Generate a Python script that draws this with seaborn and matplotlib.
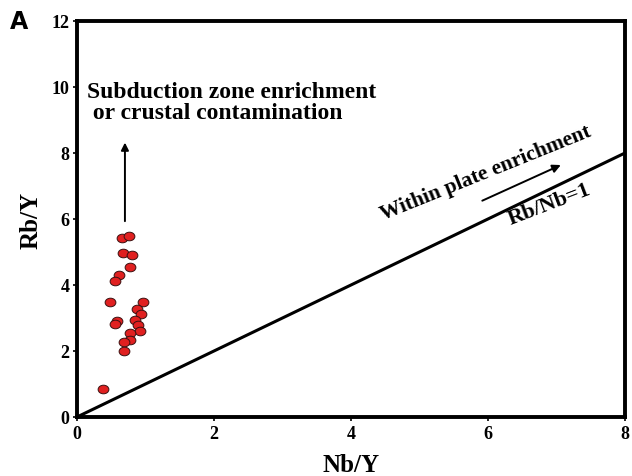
import matplotlib
matplotlib.use("Agg")
import matplotlib.pyplot as plt
from matplotlib.path import Path
from matplotlib.transforms import Affine2D
import seaborn as sns
import pandas as pd

# Sample ratios
nb_y = [0.65, 0.76, 0.67, 0.81, 0.77, 0.61, 0.56, 0.48, 0.97, 0.88, 0.93,
        0.59, 0.85, 0.56, 0.89, 0.92, 0.77, 0.78, 0.68, 0.69, 0.38]
rb_y = [5.43, 5.48, 4.96, 4.92, 4.54, 4.30, 4.11, 3.49, 3.49, 3.27, 3.11,
        2.92, 2.93, 2.81, 2.80, 2.60, 2.55, 2.34, 2.28, 2.01, 0.86]

x_ticks = [0, 2, 4, 6, 8]
y_ticks = [0, 2, 4, 6, 8, 10, 12]

sns.set_style("ticks")
plt.rcParams["font.family"] = ["Liberation Serif", "DejaVu Serif"]
plt.rcParams["font.weight"] = "bold"
for key in ("text.color", "axes.labelcolor", "xtick.color", "ytick.color"):
    plt.rcParams[key] = "black"

df = pd.DataFrame({"Nb/Y": nb_y, "Rb/Y": rb_y})

# slightly flattened round symbol
oval = Affine2D().scale(1.0, 0.8).transform_path(Path.unit_circle())

fig = plt.figure(figsize=(6.32, 4.77), dpi=100)
ax = fig.add_axes([0.1218, 0.1237, 0.8671, 0.8302])

# Rb/Nb = 1 reference line
ax.plot([0, 8], [0, 8], color="black", lw=2.2, solid_capstyle="butt", zorder=2)

sns.scatterplot(data=df, x="Nb/Y", y="Rb/Y", ax=ax, s=60, marker=oval,
                color="#e02020", edgecolor="#3a1010", linewidth=0.7,
                zorder=3, legend=False)

ax.set_xlim(0, 8)
ax.set_ylim(0, 12)
ax.set_xticks(x_ticks)
ax.set_yticks(y_ticks)
ax.set_xticklabels([str(t) for t in x_ticks], fontsize=13, fontweight="bold")
ax.set_yticklabels([str(t) for t in y_ticks], fontsize=13, fontweight="bold")
ax.tick_params(direction="out", length=3, width=1.2, pad=2.5)
for sp in ax.spines.values():
    sp.set_linewidth(2.8)
    sp.set_color("black")

ax.set_xlabel("Nb/Y", fontsize=18, fontweight="bold", labelpad=8)
ax.set_ylabel("Rb/Y", fontsize=18, fontweight="bold", labelpad=6)

# Annotations
ax.text(0.15, 9.55, "Subduction zone enrichment\n or crustal contamination",
        ha="left", va="center", fontsize=17, fontweight="bold",
        linespacing=1.0)
ax.annotate("", xy=(0.70, 8.4), xytext=(0.70, 5.85),
            arrowprops=dict(arrowstyle="-|>", color="black", lw=1.4,
                            mutation_scale=11))
ax.text(5.97, 7.42, "Within plate enrichment", rotation=22,
        rotation_mode="anchor", ha="center", va="center",
        fontsize=15.5, fontweight="bold")
ax.annotate("", xy=(7.1, 7.67), xytext=(5.88, 6.52),
            arrowprops=dict(arrowstyle="-|>", color="black", lw=1.4,
                            mutation_scale=12))
ax.text(6.89, 6.47, "Rb/Nb=1", rotation=21, rotation_mode="anchor",
        ha="center", va="center", fontsize=16, fontweight="bold")

fig.text(0.03, 0.954, "A", fontsize=17, fontweight="bold",
         family="DejaVu Sans", ha="center", va="center")

fig.savefig("out.png", dpi=100)
